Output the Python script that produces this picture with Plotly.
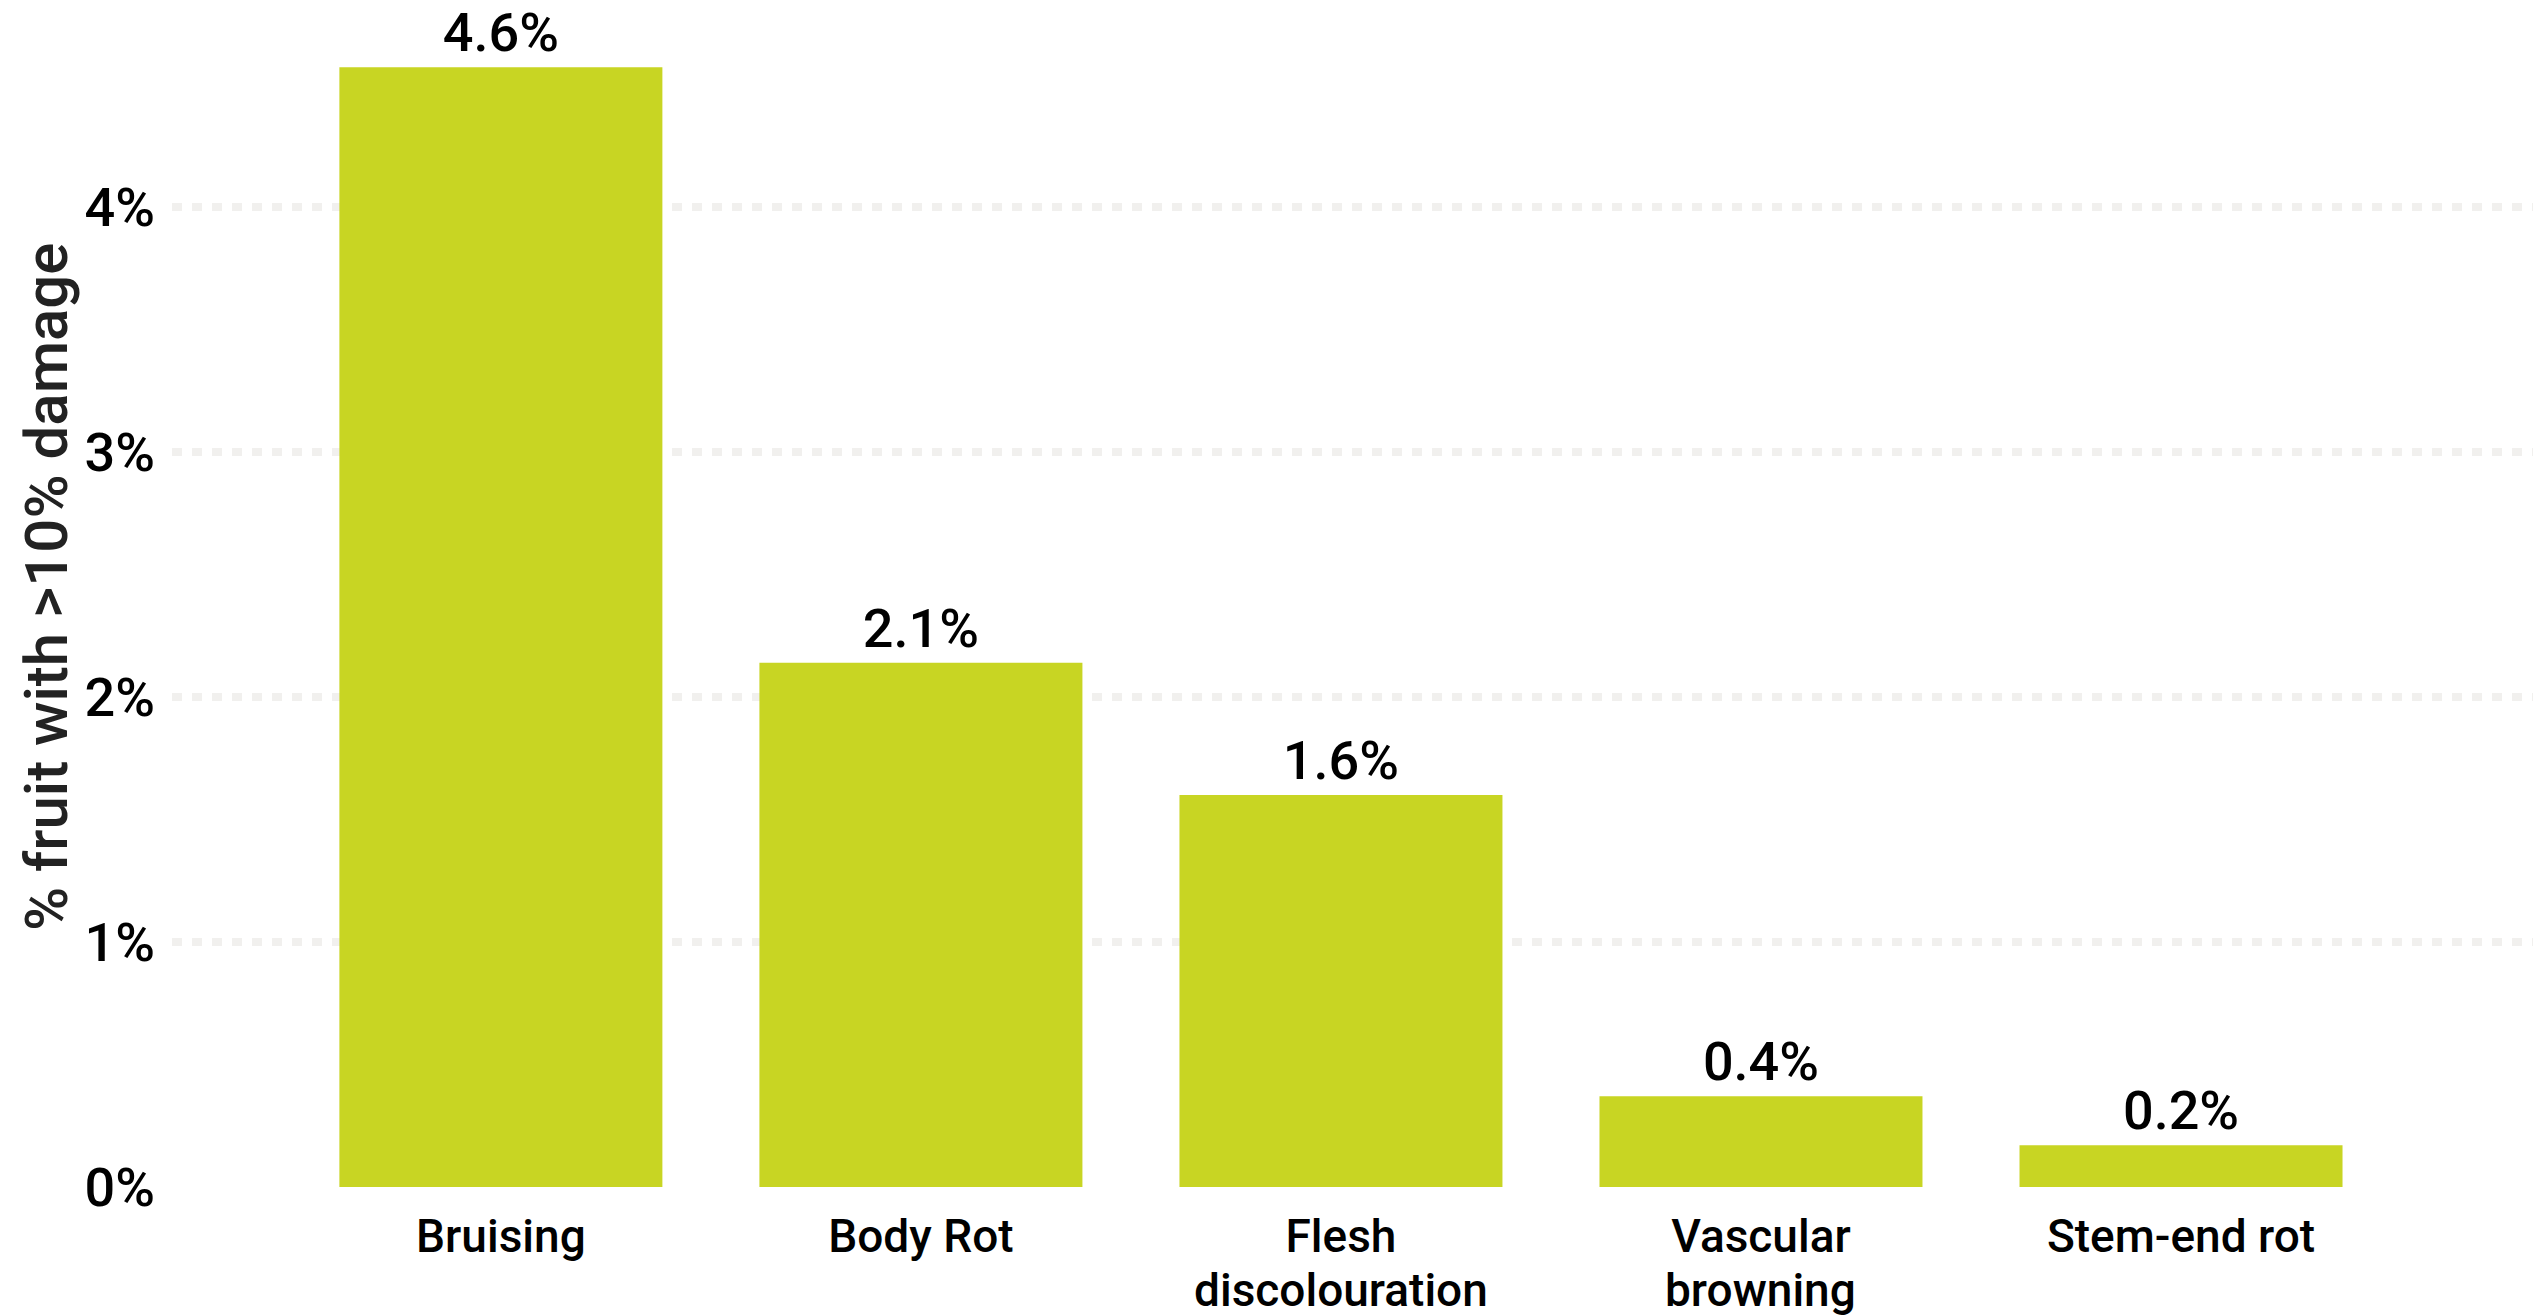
import plotly.graph_objects as go

categories = ["Bruising", "Body Rot", "Flesh discolouration", "Vascular browning", "Stem-end rot"]
label_line1 = ["Bruising", "Body Rot", "Flesh", "Vascular", "Stem-end rot"]
label_line2 = ["", "", "discolouration", "browning", ""]
values = [4.57, 2.14, 1.60, 0.37, 0.17]
y_ticks = [0, 1, 2, 3, 4]
y_tick_labels = ["0%", "1%", "2%", "3%", "4%"]
y_title = "% fruit with >10% damage"

FONT = "Roboto"
BAR = "#c8d523"
GRID = "#f1f0ee"
CAT_SIZE = 46

W, H = 2533, 1316
L, R, T, B = 172, 0, 40, 129

fig = go.Figure(
    go.Bar(
        x=categories,
        y=values,
        marker=dict(color=BAR, line=dict(width=0)),
        texttemplate="%{y:.1f}%",
        textposition="outside",
        textfont=dict(family=FONT, size=54, color="#000000", weight=500),
        cliponaxis=False,
        hoverinfo="skip",
    )
)

fig.update_layout(
    width=W,
    height=H,
    margin=dict(l=L, r=R, t=T, b=B, pad=0, autoexpand=False),
    paper_bgcolor="white",
    plot_bgcolor="white",
    bargap=0.231,
    showlegend=False,
    font=dict(family=FONT, color="#000000"),
)

fig.update_xaxes(
    type="category",
    range=[-0.783, 4.838],
    tickmode="array",
    tickvals=categories,
    ticktext=label_line1,
    tickfont=dict(family=FONT, size=CAT_SIZE, color="#000000", weight=500),
    showgrid=False,
    zeroline=False,
    showline=False,
    ticks="",
    ticklabelstandoff=18,
    automargin=False,
)

# second line of the wrapped category labels (tighter line spacing than <br>)
for cat, txt in zip(categories, label_line2):
    if txt:
        fig.add_annotation(
            text=txt,
            x=cat,
            xref="x",
            yref="paper",
            y=0,
            xanchor="center",
            yanchor="top",
            yshift=-74,
            showarrow=False,
            font=dict(family=FONT, size=CAT_SIZE, color="#000000", weight=500),
        )

fig.update_yaxes(
    range=[0, 4.6816],
    tickmode="array",
    tickvals=y_ticks,
    ticktext=y_tick_labels,
    tickfont=dict(family=FONT, size=54, color="#000000", weight=500),
    showgrid=True,
    gridcolor=GRID,
    gridwidth=8,
    griddash="10px,10px",
    zeroline=False,
    showline=False,
    ticks="",
    ticklabelstandoff=16,
    automargin=False,
)

fig.add_annotation(
    text=y_title,
    xref="paper",
    yref="paper",
    x=(46 - L) / (W - L - R),
    y=(1187 - 587) / (1187 - T),
    xanchor="center",
    yanchor="middle",
    textangle=-90,
    showarrow=False,
    font=dict(family=FONT, size=60, color="#222222", weight=500),
)

fig.write_html(
    "out.html",
    config={"displayModeBar": False},
    post_script="document.body.style.margin='0';document.body.style.overflow='hidden';",
)
